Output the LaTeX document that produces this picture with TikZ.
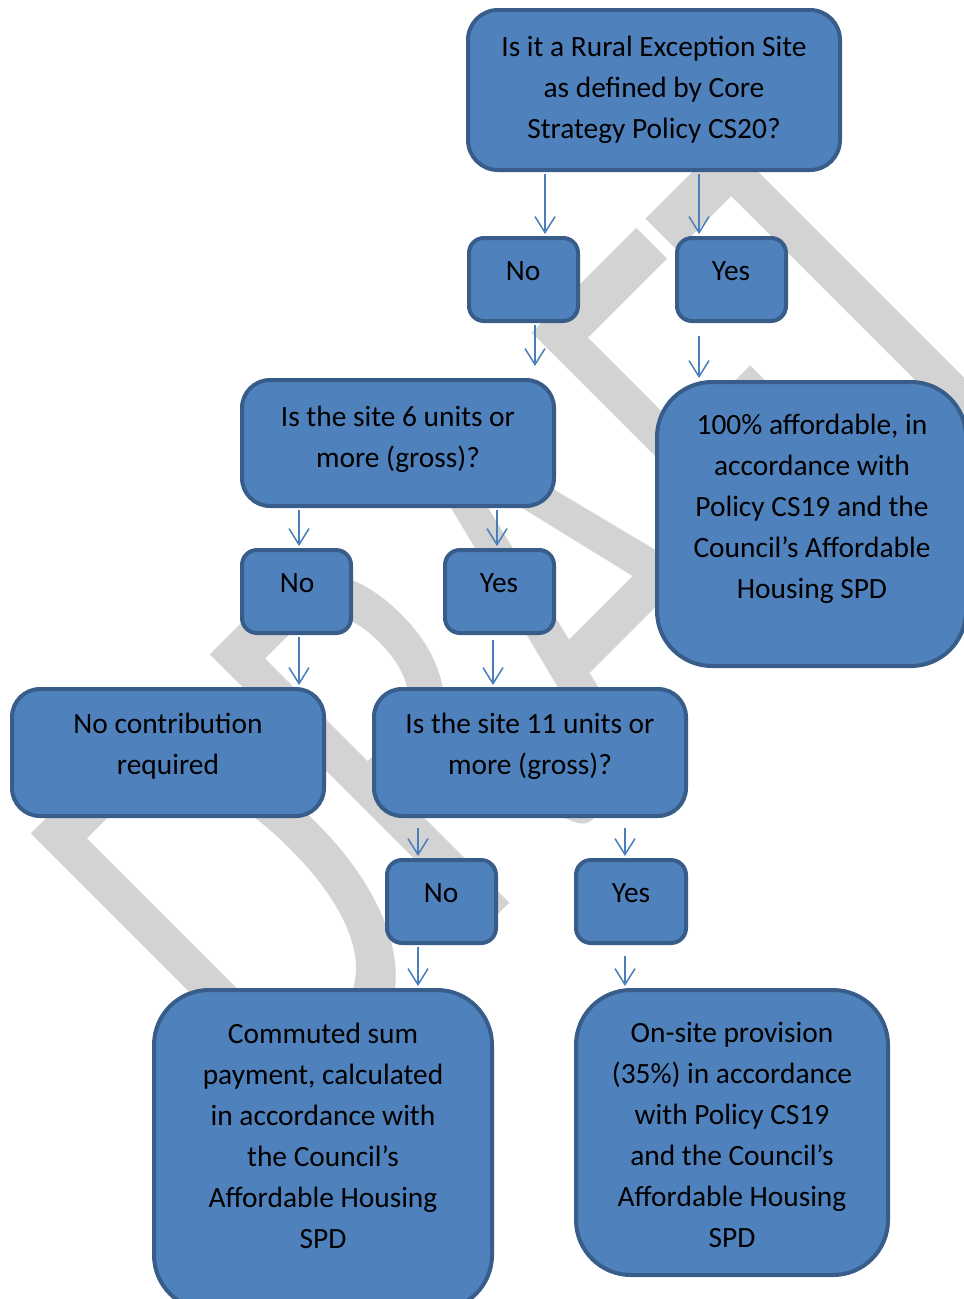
\documentclass[tikz,border=0pt]{standalone}
\usepackage{fontspec}
\usepackage{graphicx}
\setmainfont{Carlito}
\usetikzlibrary{arrows.meta}
\definecolor{boxfill}{HTML}{4F81BD}
\definecolor{boxline}{HTML}{385D8A}
\definecolor{arrowc}{HTML}{4A7EBB}
\definecolor{wmgrey}{HTML}{D3D3D3}
\begin{document}
\begin{tikzpicture}[x=1pt,y=-1pt,
  box/.style={draw=boxline, fill=boxfill, line width=4pt, rounded corners=#1, inner sep=0pt},
  txt/.style={align=center, inner sep=0pt, font=\fontsize{29.4}{41}\selectfont},
  arr/.style={draw=arrowc, line width=1.5pt, -{Straight Barb[length=16pt,width=20pt,line width=1.5pt]}}]
\useasboundingbox (0,0) rectangle (964,1299);
\clip (0,0) rectangle (964,1299);
% watermark
\node[rotate=45, anchor=base west, inner sep=0pt, text=wmgrey, font=\fontsize{408}{408}\selectfont] (wm) at (285.5,1127.5) {\scalebox{1}[1.48]{DRAF\kern-4pt T}};
% boxes
\node[box=30pt, minimum width=372, minimum height=160] (top) at (654,90) {};
\node[box=15pt, minimum width=109, minimum height=83] (no1) at (523.5,279.5) {};
\node[box=15pt, minimum width=109, minimum height=83] (yes1) at (731.5,279.5) {};
\node[box=28pt, minimum width=312, minimum height=126] (six) at (398,443) {};
\node[box=55pt, minimum width=309, minimum height=284] (hundred) at (811.5,524) {};
\node[box=15pt, minimum width=109, minimum height=83] (no2) at (296.5,591.5) {};
\node[box=15pt, minimum width=109, minimum height=83] (yes2) at (499.5,591.5) {};
\node[box=28pt, minimum width=312, minimum height=127] (nocon) at (168,752.5) {};
\node[box=28pt, minimum width=312, minimum height=127] (eleven) at (530,752.5) {};
\node[box=15pt, minimum width=109, minimum height=83] (no3) at (441.5,901.5) {};
\node[box=15pt, minimum width=110, minimum height=83] (yes3) at (631,901.5) {};
\node[box=55pt, minimum width=338, minimum height=320] (comm) at (323,1150) {};
\node[box=55pt, minimum width=312, minimum height=285] (onsite) at (732,1132.5) {};
% texts
\node[txt] (topT) at (654,90) {Is it a Rural Exception Site\\as defined by Core\\Strategy Policy CS20?};
\node[txt] (no1T) at (523,271) {No};
\node[txt] (yes1T) at (731,271) {Yes};
\node[txt] (sixT) at (398,439) {Is the site 6 units or\\more (gross)?};
\node[txt] (hundredT) at (812,508.5) {100\% affordable, in\\accordance with\\Policy CS19 and the\\Council’s Affordable\\Housing SPD};
\node[txt] (no2T) at (297,583) {No};
\node[txt] (yes2T) at (499,583) {Yes};
\node[txt] (noconT) at (168,746.5) {No contribution\\required};
\node[txt] (elevenT) at (530,746.5) {Is the site 11 units or\\more (gross)?};
\node[txt] (no3T) at (441,893) {No};
\node[txt] (yes3T) at (631,893) {Yes};
\node[txt] (commT) at (323,1136) {Commuted sum\\payment, calculated\\in accordance with\\the Council’s\\Affordable Housing\\SPD};
\node[txt] (onsiteT) at (732,1135) {On-site provision\\(35\%) in accordance\\with Policy CS19\\and the Council’s\\Affordable Housing\\SPD};
% connectors
\draw[arr, shorten <=2pt, shorten >=2pt] (top.south -| 545,0) -- (no1.north -| 545,0);
\draw[arr, shorten <=2pt, shorten >=2pt] (top.south -| 699,0) -- (yes1.north -| 699,0);
\draw[arr, shorten <=2pt, shorten >=12pt] (no1.south -| 535,0) -- (six.north -| 535,0);
\draw[arr, shorten <=13pt, shorten >=2pt] (yes1.south -| 699,0) -- (hundred.north -| 699,0);
\draw[arr, shorten <=2pt, shorten >=2pt] (six.south -| 299,0) -- (no2.north -| 299,0);
\draw[arr, shorten <=2pt, shorten >=2pt] (six.south -| 497,0) -- (yes2.north -| 497,0);
\draw[arr, shorten <=2pt, shorten >=2pt] (no2.south -| 299,0) -- (nocon.north -| 299,0);
\draw[arr, shorten <=5pt, shorten >=2pt] (yes2.south -| 493,0) -- (eleven.north -| 493,0);
\draw[arr, shorten <=10pt, shorten >=2pt] (eleven.south -| 418,0) -- (no3.north -| 418,0);
\draw[arr, shorten <=10pt, shorten >=2pt] (eleven.south -| 625,0) -- (yes3.north -| 625,0);
\draw[arr, shorten <=2pt, shorten >=2pt] (no3.south -| 418,0) -- (comm.north -| 418,0);
\draw[arr, shorten <=11pt, shorten >=2pt] (yes3.south -| 625,0) -- (onsite.north -| 625,0);
\end{tikzpicture}
\end{document}
